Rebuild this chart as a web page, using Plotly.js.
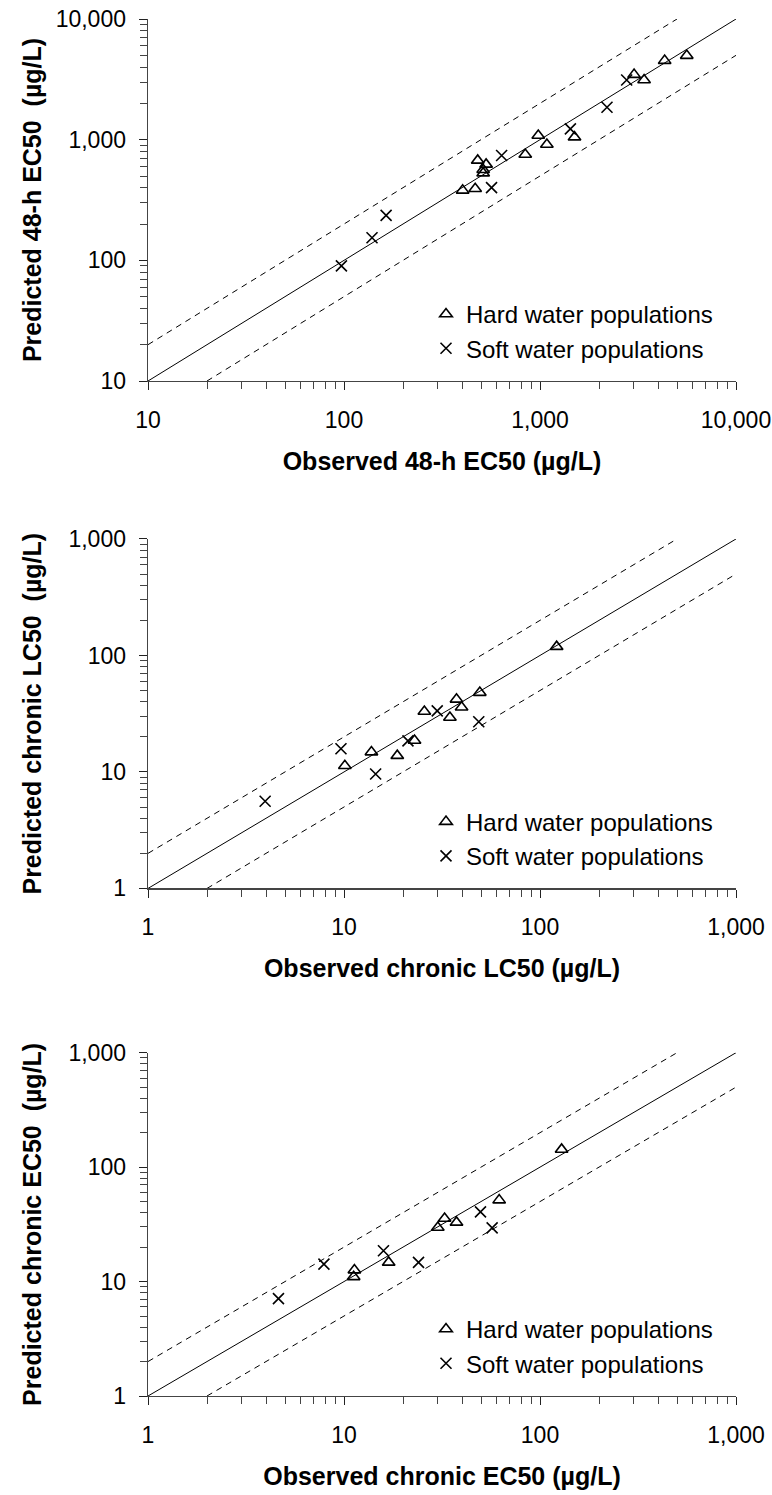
<!DOCTYPE html>
<html><head><meta charset="utf-8">
<script src="https://cdn.plot.ly/plotly-3.0.1.min.js"></script>
<style>html,body{margin:0;padding:0;background:#fff}#chart{width:772px;height:1495px}</style>
</head><body><div id="chart"></div>
<script>
// ---------- Data ----------
// Panel 1: 48-h EC50 (µg/L)
const obs48Hard  = [403, 467, 481, 531, 513, 513, 841, 980, 1084, 1500, 3020, 3397, 4325, 5607];
const pred48Hard = [380, 392, 673, 624, 563, 528, 754, 1084, 912, 1049, 3460, 3125, 4519, 4973];
const obs48Soft  = [97, 139, 164, 566, 637, 1429, 2197, 2768];
const pred48Soft = [90, 154, 236, 400, 740, 1230, 1858, 3125];
// Panel 2: chronic LC50 (µg/L)
const obsLCHard  = [10.1, 13.8, 18.7, 22.9, 25.7, 34.7, 37.5, 39.8, 49.3, 121.6];
const predLCHard = [11.3, 14.8, 13.8, 18.6, 33.0, 29.3, 42.0, 35.9, 48.0, 119];
const obsLCSoft  = [3.96, 9.65, 14.5, 21.2, 29.9, 48.7];
const predLCSoft = [5.6, 15.8, 9.6, 18.5, 33.4, 27.0];
// Panel 3: chronic EC50 (µg/L)
const obsECHard  = [11.2, 11.3, 16.9, 30.1, 32.6, 37.5, 61.9, 128.9];
const predECHard = [11.0, 12.6, 14.7, 29.7, 35.6, 32.9, 51.5, 142.8];
const obsECSoft  = [4.63, 7.9, 15.9, 24.0, 49.7, 57.0];
const predECSoft = [7.1, 14.2, 18.6, 14.7, 40.7, 29.5];

// Axis ranges and tick labels
const range48 = [10, 10000];
const rangeChronic = [1, 1000];
const ticks48 = [10, 100, 1000, 10000];
const tickLabels48 = ['10', '100', '1,000', '10,000'];
const ticksChronic = [1, 10, 100, 1000];
const tickLabelsChronic = ['1', '10', '100', '1,000'];
const seriesNames = ['Hard water populations', 'Soft water populations'];
const foldFactor = 2; // dashed lines: factor-of-two bounds

const xTitles = ['Observed 48-h EC50 (µg/L)', 'Observed chronic LC50 (µg/L)', 'Observed chronic EC50 (µg/L)'];
const yTitles = ['Predicted 48-h EC50\u00A0 (µg/L)', 'Predicted chronic LC50\u00A0 (µg/L)', 'Predicted chronic EC50\u00A0 (µg/L)'];

// ---------- Build ----------
const FONT = 'Liberation Sans, Arial, Helvetica, sans-serif';
const panels = [
  {oh: obs48Hard, ph: pred48Hard, os: obs48Soft, ps: pred48Soft, range: range48, tv: ticks48, tt: tickLabels48},
  {oh: obsLCHard, ph: predLCHard, os: obsLCSoft, ps: predLCSoft, range: rangeChronic, tv: ticksChronic, tt: tickLabelsChronic},
  {oh: obsECHard, ph: predECHard, os: obsECSoft, ps: predECSoft, range: rangeChronic, tv: ticksChronic, tt: tickLabelsChronic}
];
// vertical domains (paper fractions)
const yDomains = [[0.7371, 1.0], [0.3686, 0.6224], [0.0, 0.2493]];
const legendY = [0.7444, 0.3758, 0.0073];
const yTitleStandoff = [7, 19, 19];

function minorVals(r) {
  const out = [];
  for (let d = r[0]; d < r[1]; d *= 10) for (let k = 2; k <= 9; k++) out.push(d * k);
  return out;
}

const traces = [];
const layout = {
  width: 772, height: 1495,
  margin: {l: 148, r: 36, t: 19, b: 99},
  paper_bgcolor: '#fff', plot_bgcolor: 'rgba(0,0,0,0)',
  font: {family: FONT, color: '#000', size: 23},
  showlegend: true
};

panels.forEach((p, i) => {
  const n = i === 0 ? '' : String(i + 1);
  const xa = 'x' + n, ya = 'y' + n;
  const lg = 'legend' + n;
  const lo = p.range[0], hi = p.range[1];
  traces.push({x: [lo, hi], y: [lo, hi], xaxis: xa, yaxis: ya, mode: 'lines', line: {color: '#000', width: 1}, showlegend: false, hoverinfo: 'skip'});
  traces.push({x: [lo, hi / foldFactor], y: [lo * foldFactor, hi], xaxis: xa, yaxis: ya, mode: 'lines', line: {color: '#000', width: 1, dash: '6px,5px'}, showlegend: false, hoverinfo: 'skip'});
  traces.push({x: [lo * foldFactor, hi], y: [lo, hi / foldFactor], xaxis: xa, yaxis: ya, mode: 'lines', line: {color: '#000', width: 1, dash: '6px,5px'}, showlegend: false, hoverinfo: 'skip'});
  traces.push({x: p.oh, y: p.ph, xaxis: xa, yaxis: ya, mode: 'markers', name: seriesNames[0], legend: lg, legendgroup: 'hard' + i,
    marker: {symbol: 'triangle-up-open', size: 11, color: '#000', line: {color: '#000', width: 1.6}}});
  traces.push({x: p.os, y: p.ps, xaxis: xa, yaxis: ya, mode: 'markers', name: seriesNames[1], legend: lg, legendgroup: 'soft' + i,
    marker: {symbol: 'x-thin-open', size: 11, color: '#000', line: {color: '#000', width: 1.6}}});

  const logR = [Math.log10(lo), Math.log10(hi)];
  const common = {
    type: 'log', range: logR, showgrid: false, zeroline: false,
    tickmode: 'array', tickvals: p.tv, ticktext: p.tt,
    ticks: 'outside', ticklen: 8, tickwidth: 1, tickcolor: '#222',
    showline: true, linecolor: '#444', linewidth: 1.4,
    tickfont: {family: FONT, size: 23, color: '#000'},
    minor: {tickmode: 'array', tickvals: minorVals(p.range), ticks: 'outside', ticklen: 7, tickwidth: 1, tickcolor: '#444', showgrid: false},
    fixedrange: true, automargin: false
  };
  layout['xaxis' + n] = Object.assign({}, common, {
    domain: [0, 1], anchor: ya, ticklabelstandoff: 10,
    title: {text: xTitles[i], standoff: 20, font: {family: FONT, size: 25, weight: 700, color: '#000'}}
  });
  layout['yaxis' + n] = Object.assign({}, common, {
    domain: yDomains[i], anchor: xa, ticklabelstandoff: 8,
    title: {text: yTitles[i], standoff: yTitleStandoff[i], font: {family: FONT, size: 25, weight: 700, color: '#000'}}
  });
  // overlay axes giving the inward half of the crossing major ticks
  const ox = 'xaxis' + (i + 4), oy = 'yaxis' + (i + 4);
  layout[ox] = {type: 'log', range: logR, overlaying: xa, anchor: ya, domain: [0, 1], showgrid: false, zeroline: false,
    tickmode: 'array', tickvals: p.tv, ticks: 'inside', ticklen: 9, tickwidth: 1, tickcolor: '#222',
    showticklabels: false, showline: false, fixedrange: true};
  layout[oy] = {type: 'log', range: logR, overlaying: ya, anchor: xa, domain: yDomains[i], showgrid: false, zeroline: false,
    tickmode: 'array', tickvals: p.tv, ticks: 'inside', ticklen: 9, tickwidth: 1, tickcolor: '#222',
    showticklabels: false, showline: false, fixedrange: true};

  layout[lg] = {x: 0.4728, xanchor: 'left', y: legendY[i], yanchor: 'bottom',
    bgcolor: 'rgba(0,0,0,0)', borderwidth: 0, tracegroupgap: 6, traceorder: 'normal',
    font: {family: FONT, size: 24, color: '#000'}};
});

Plotly.newPlot('chart', traces, layout, {displayModeBar: false, staticPlot: true});
</script>
</body></html>
